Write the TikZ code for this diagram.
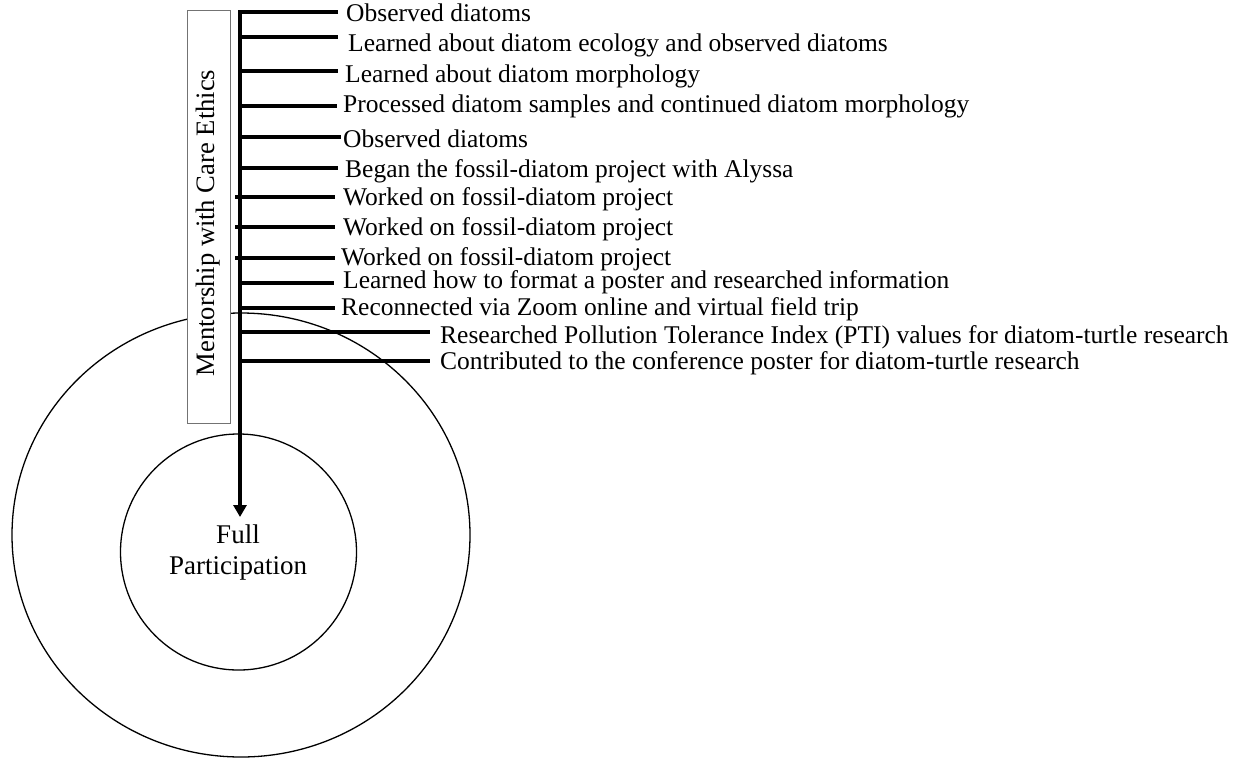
\documentclass[tikz,border=0pt]{standalone}
\usepackage{fontspec}
\setmainfont{Liberation Serif}
\usetikzlibrary{arrows.meta}
\begin{document}
\begin{tikzpicture}[x=1pt,y=-1pt,
  ring/.style={line width=1.3pt},
  spine/.style={line width=4.4pt},
  branch/.style={line width=4pt},
  evt/.style={anchor=base west, inner sep=0pt, font=\fontsize{25.5}{30}\selectfont},
  framebox/.style={draw=black!55, fill=white, line width=0.9pt, inner sep=0pt,
    minimum width=43pt, minimum height=413pt}
]
\useasboundingbox (0,0) rectangle (1246,758);
\clip (0,0) rectangle (1246,758);

% outer ring of the community
\draw[ring] (241,535) ellipse [x radius=229pt, y radius=222pt];

% mentorship frame with its rotated caption
\node[framebox] (mbox) at (208.5,216.5) {};
\node[rotate=90, inner sep=0pt, font=\fontsize{26.6}{30}\selectfont] (mlab) at (208,223) {Mentorship with Care Ethics};

% inner core
\draw[ring] (238.5,552) circle [radius=118pt];
\node[align=center, inner sep=0pt, font=\fontsize{27}{31}\selectfont] (fp) at (238,552) {Full\\Participation};

% activity branches
\foreach \i/\xs/\y/\xe/\xt/\yb/\txt in {
  1/240/12/338/346/21/{Observed diatoms},
  2/240/37/338/348/51/{Learned about diatom ecology and observed diatoms},
  3/240/71/338/345/82/{Learned about diatom morphology},
  4/240/106/337/343/112/{Processed diatom samples and continued diatom morphology},
  5/240/137/341/343/147/{Observed diatoms},
  6/240/168/338/345/177/{Began the fossil-diatom project with Alyssa},
  7/235/197/335/343/205/{Worked on fossil-diatom project},
  8/235/227/335/343/235/{Worked on fossil-diatom project},
  9/235/258/335/341/265/{Worked on fossil-diatom project},
  10/240/283/334/343/288/{Learned how to format a poster and researched information},
  11/240/308/335/341/315/{Reconnected via Zoom online and virtual field trip},
  12/240/332/430/440/343/{Researched Pollution Tolerance Index (PTI) values for diatom-turtle research},
  13/240/361/430/440/369/{Contributed to the conference poster for diatom-turtle research}} {
  \coordinate (s\i) at (\xs,\y);
  \coordinate (e\i) at (\xe,\y);
  \node[evt] (t\i) at (\xt,\yb) {\txt};
  \draw[branch] (s\i) -- (e\i);
}

% main timeline into full participation
\coordinate (top) at (240,12);
\coordinate (tip) at (240,517);
\draw[spine, -{Triangle[width=13pt,length=12pt]}] (e1) -- (top) -- (tip);
\end{tikzpicture}
\end{document}
